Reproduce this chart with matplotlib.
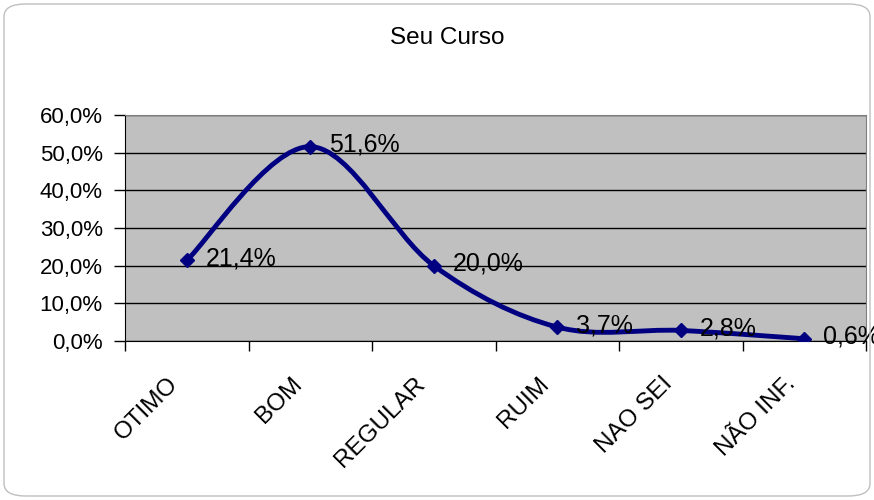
import numpy as np
import matplotlib.pyplot as plt
from matplotlib.path import Path
from matplotlib.patches import PathPatch, FancyBboxPatch

plt.rcParams['font.family'] = ['Liberation Sans', 'DejaVu Sans']

# data
categories = ["OTIMO", "BOM", "REGULAR", "RUIM", "NAO SEI", "NÃO INF."]
values = [0.214, 0.516, 0.200, 0.037, 0.028, 0.006]
labels = ["21,4%", "51,6%", "20,0%", "3,7%", "2,8%", "0,6%"]
yticks = [0.0, 0.1, 0.2, 0.3, 0.4, 0.5, 0.6]
ytick_labels = ["0,0%", "10,0%", "20,0%", "30,0%", "40,0%", "50,0%", "60,0%"]

navy = "#000080"

fig = plt.figure(figsize=(8.74, 5.0), dpi=100)
ax = fig.add_axes([125 / 874, 1 - 341 / 500, 741 / 874, 226 / 500])
ax.set_facecolor("#C0C0C0")

x = np.arange(len(values))
y = np.array(values)

# smoothed line (Excel-like bezier through the points)
verts = [(x[0], y[0])]
codes = [Path.MOVETO]
n = len(x)
for i in range(n - 1):
    p0 = np.array([x[max(i - 1, 0)], y[max(i - 1, 0)]])
    p1 = np.array([x[i], y[i]])
    p2 = np.array([x[i + 1], y[i + 1]])
    p3 = np.array([x[min(i + 2, n - 1)], y[min(i + 2, n - 1)]])
    c1 = p1 + (p2 - p0) / 6
    c2 = p2 - (p3 - p1) / 6
    verts += [tuple(c1), tuple(c2), tuple(p2)]
    codes += [Path.CURVE4] * 3
ax.add_patch(PathPatch(Path(verts, codes), facecolor="none", edgecolor=navy,
                       lw=3.5, zorder=3, capstyle="round", joinstyle="round"))
ax.plot(x, y, linestyle="none", marker="D", color=navy, markersize=7.5, zorder=4)

# data labels (the last one runs off the right edge, as in the original)
for xi, yi, lab in zip(x, y, labels):
    ax.annotate(lab, (xi, yi), xytext=(19, 2), textcoords="offset pixels",
                va="center", ha="left", fontsize=18, zorder=5,
                annotation_clip=False)

ax.set_xlim(-0.5, n - 0.5)
ax.set_ylim(0, 0.6)
ax.set_yticks(yticks)
ax.set_yticklabels(ytick_labels, fontsize=16)
ax.yaxis.grid(True, color="black", lw=1)
ax.set_axisbelow(True)

# tick marks between categories, labels drawn separately
ax.set_xticks(np.arange(-0.5, n, 1.0))
ax.set_xticklabels([])
ax.tick_params(axis="x", length=7, width=1, direction="out")
ax.tick_params(axis="y", length=8, width=1, direction="out", pad=8)

for i, cat in enumerate(categories):
    ax.text(i - 0.06, -0.195, cat, rotation=45, rotation_mode="anchor",
            ha="right", va="baseline", fontsize=17.5,
            transform=ax.get_xaxis_transform())

for s in ["left", "bottom"]:
    ax.spines[s].set_color("black")
for s in ["top", "right"]:
    ax.spines[s].set_color("#808080")

fig.text(447 / 874, 1 - 38 / 500, "Seu Curso", ha="center", va="center", fontsize=17.5)

fig.patches.append(FancyBboxPatch((4 / 874, 4 / 500), 866 / 874, 492 / 500,
                                  boxstyle="round,pad=0,rounding_size=0.025",
                                  transform=fig.transFigure, facecolor="none",
                                  edgecolor="#BFBFBF", lw=1))

fig.savefig("out.png", dpi=100)
